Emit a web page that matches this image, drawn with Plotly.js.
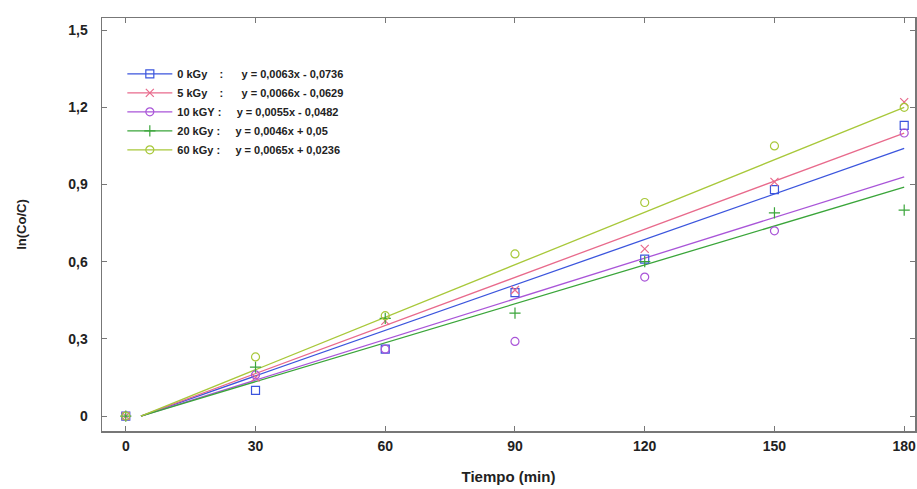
<!DOCTYPE html>
<html>
<head>
<meta charset="utf-8">
<script src="https://cdn.plot.ly/plotly-3.0.1.min.js"></script>
<style>html,body{margin:0;padding:0;background:#fff;}#chart{width:917px;height:489px;}</style>
</head>
<body>
<div id="chart"></div>
<script>
// Measurement times (min)
const tiempo = [0, 30, 60, 90, 120, 150, 180];
// ln(Co/C) per dose
const kGy0  = [0, 0.10, 0.26, 0.48, 0.61, 0.88, 1.13];
const kGy5  = [0, 0.15, 0.37, 0.49, 0.65, 0.91, 1.22];
const kGy10 = [0, 0.16, 0.26, 0.29, 0.54, 0.72, 1.10];
const kGy20 = [0, 0.19, 0.38, 0.40, 0.60, 0.79, 0.80];
const kGy60 = [0, 0.23, 0.39, 0.63, 0.83, 1.05, 1.20];
// Trend lines as drawn (start and end)
const fitX = [3.5, 180];
const fit0  = [0, 1.04];
const fit5  = [0, 1.10];
const fit10 = [0, 0.93];
const fit20 = [0, 0.89];
const fit60 = [0, 1.20];
// Legend labels
const doseLabels = ["0 kGy&nbsp;&nbsp;&nbsp;&nbsp;:", "5 kGy&nbsp;&nbsp;&nbsp;&nbsp;:", "10 kGY&nbsp;:", "20 kGy&nbsp;:", "60 kGy&nbsp;:"];
const equations = [
  "y = 0,0063x - 0,0736",
  "y = 0,0066x - 0,0629",
  "y = 0,0055x - 0,0482",
  "y = 0,0046x + 0,05",
  "y = 0,0065x + 0,0236"
];
const gaps = [6, 6, 5, 5, 5];
const xTicks = [0, 30, 60, 90, 120, 150, 180];
const yTicks = [0, 0.3, 0.6, 0.9, 1.2, 1.5];
const yTickText = ["0", "0,3", "0,6", "0,9", "1,2", "1,5"];

const series = [
  {y: kGy0,  fit: fit0,  color: "#3b55dd", symbol: "square-open"},
  {y: kGy5,  fit: fit5,  color: "#e86a8c", symbol: "x-thin-open"},
  {y: kGy10, fit: fit10, color: "#a955d8", symbol: "circle-open"},
  {y: kGy20, fit: fit20, color: "#3aa53a", symbol: "cross-thin-open"},
  {y: kGy60, fit: fit60, color: "#a8c83a", symbol: "circle-open"}
];

const traces = [];
series.forEach((s, i) => {
  traces.push({x: fitX, y: s.fit, mode: "lines", type: "scatter",
    line: {color: s.color, width: 1.3}, showlegend: false, hoverinfo: "skip"});
});
series.forEach((s, i) => {
  traces.push({x: tiempo, y: s.y, mode: "markers", type: "scatter",
    marker: {symbol: s.symbol, size: 8, color: s.color, line: {color: s.color, width: 1.2}},
    showlegend: false});
});
series.forEach((s, i) => {
  traces.push({x: [null], y: [null], mode: "lines+markers", type: "scatter",
    name: doseLabels[i] + "&nbsp;".repeat(gaps[i]) + equations[i],
    line: {color: s.color, width: 1.3},
    marker: {symbol: s.symbol, size: 8, color: s.color, line: {color: s.color, width: 1.2}}});
});

const tickFont = {family: "Liberation Sans, Arial, sans-serif", size: 14, color: "#222", weight: "bold"};

const layout = {
  width: 917, height: 489,
  margin: {l: 102, r: 2, t: 18, b: 58},
  paper_bgcolor: "#fff", plot_bgcolor: "#fff",
  showlegend: true,
  legend: {x: 0.025, y: 0.9, xanchor: "left", yanchor: "top", bgcolor: "rgba(0,0,0,0)",
    font: {family: "Liberation Sans, Arial, sans-serif", size: 11, color: "#222", weight: "bold"},
    tracegroupgap: 0, itemwidth: 45},
  xaxis: {range: [-5.5, 182.5], tickvals: xTicks, ticktext: xTicks.map(String),
    ticks: "inside", ticklen: 5, tickcolor: "#777", mirror: "ticks",
    showline: true, linecolor: "#777", linewidth: 1.5, showgrid: false, zeroline: false,
    tickfont: tickFont, ticklabelstandoff: 2,
    title: {text: "Tiempo (min)", font: {family: "Liberation Sans, Arial, sans-serif", size: 15, color: "#222", weight: "bold"}, standoff: 18}},
  yaxis: {range: [-0.058, 1.547], tickvals: yTicks, ticktext: yTickText,
    ticks: "inside", ticklen: 5, tickcolor: "#777", mirror: "ticks",
    showline: true, linecolor: "#777", linewidth: 1.5, showgrid: false, zeroline: false,
    tickfont: tickFont, ticklabelstandoff: 10,
    title: {text: "ln(Co/C)", font: {family: "Liberation Sans, Arial, sans-serif", size: 13, color: "#222", weight: "bold"}, standoff: 38}}
};

Plotly.newPlot("chart", traces, layout, {displayModeBar: false, staticPlot: true});
</script>
</body>
</html>
